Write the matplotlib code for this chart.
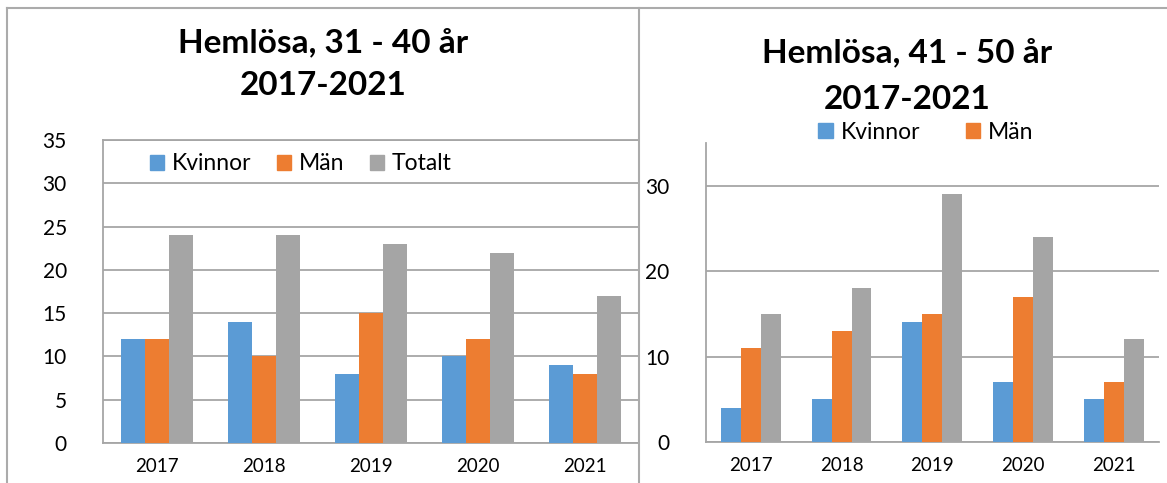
import matplotlib
matplotlib.use("Agg")
import matplotlib.pyplot as plt
import numpy as np
from matplotlib.lines import Line2D
from matplotlib.patches import Patch

years = ["2017", "2018", "2019", "2020", "2021"]
series_names = ["Kvinnor", "Män", "Totalt"]
left_kvinnor = [12, 14, 8, 10, 9]
left_man = [12, 10, 15, 12, 8]
left_totalt = [24, 24, 23, 22, 17]
right_kvinnor = [4, 5, 14, 7, 5]
right_man = [11, 13, 15, 17, 7]
right_totalt = [15, 18, 29, 24, 12]
left_title = "Hemlösa, 31 - 40 år\n2017-2021"
right_title = "Hemlösa, 41 - 50 år\n2017-2021"

colors = ["#5B9BD5", "#ED7D31", "#A5A5A5"]
grid_c = "#A6A6A6"
frame_c = "#ABABAB"
FONT = "Lato"
plt.rcParams["font.family"] = [FONT, "DejaVu Sans"]

W, H = 1167, 483
fig = plt.figure(figsize=(W / 100, H / 100), dpi=100)

def px_axes(x0, y0, x1, y1):
    return fig.add_axes([x0 / W, 1 - y1 / H, (x1 - x0) / W, (y1 - y0) / H])

def draw_bars(ax, data, bw):
    x = np.arange(len(years))
    for i, (vals, c) in enumerate(zip(data, colors)):
        ax.bar(x + (i - 1) * bw, vals, bw, color=c, zorder=3)
    ax.set_xlim(-0.5, len(years) - 0.5)
    ax.set_xticks(x)
    ax.set_xticklabels(years, fontsize=13.5)
    ax.tick_params(axis="x", length=0, pad=11)
    ax.tick_params(axis="y", length=0, pad=26, labelsize=15)
    ax.yaxis.grid(True, color=grid_c, linewidth=1.3, zorder=0)
    ax.set_axisbelow(True)

# Left chart
axL = px_axes(103, 140, 639, 443)
draw_bars(axL, [left_kvinnor, left_man, left_totalt], 0.224)
axL.set_ylim(0, 35)
axL.set_yticks(range(0, 36, 5))
for s in axL.spines.values():
    s.set_color(grid_c)
    s.set_linewidth(1.3)
handles = [Patch(color=c) for c in colors]
leg = fig.legend(handles, series_names, loc="center", bbox_to_anchor=(301 / W, 1 - 164 / H),
                 ncol=3, frameon=True, fontsize=16.5, handlelength=0.62, handleheight=0.62,
                 handletextpad=0.35, columnspacing=1.1, borderpad=0.15)
leg.get_frame().set_edgecolor("white")
leg.get_frame().set_facecolor("white")
leg.get_frame().set_alpha(1)
leg.get_frame().set_boxstyle("square", pad=0.0)
fig.text(323 / W, 1 - 64 / H, left_title, ha="center", va="center", fontsize=24,
         fontweight="bold", linespacing=1.58)

# Right chart
axR = px_axes(705.5, 143, 1159, 442)
draw_bars(axR, [right_kvinnor, right_man, right_totalt], 0.22)
axR.set_ylim(0, 35)
axR.set_yticks(range(0, 31, 10))
for k in ["top", "right"]:
    axR.spines[k].set_visible(False)
for k in ["left", "bottom"]:
    axR.spines[k].set_color(grid_c)
    axR.spines[k].set_linewidth(1.3)
fig.legend(handles[:2], series_names[:2], loc="center", bbox_to_anchor=(926 / W, 1 - 132 / H),
           ncol=2, frameon=False, fontsize=16.5, handlelength=0.62, handleheight=0.62,
           handletextpad=0.35, columnspacing=2.0)
fig.text(907 / W, 1 - 76 / H, right_title, ha="center", va="center", fontsize=24,
         fontweight="bold", linespacing=1.74)

# Frame lines
fig.add_artist(Line2D([7 / W, 7 / W], [0, 1 - 8 / H], transform=fig.transFigure, color=frame_c, lw=1.5))
fig.add_artist(Line2D([7 / W, 1], [1 - 8 / H, 1 - 8 / H], transform=fig.transFigure, color=frame_c, lw=1.5))
fig.add_artist(Line2D([639 / W, 639 / W], [0, 1 - 8 / H], transform=fig.transFigure, color=frame_c, lw=1.5))

fig.savefig("out.png", dpi=100, facecolor="white")
